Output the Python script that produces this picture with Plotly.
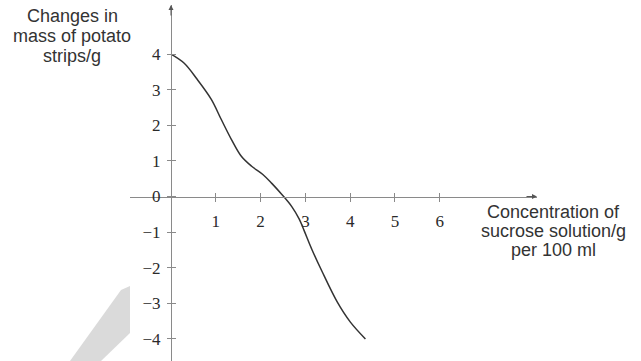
import plotly.graph_objects as go

# Data
conc = [0.0, 0.29, 0.58, 0.9, 1.12, 1.35, 1.57, 1.8, 2.05, 2.25, 2.48, 2.7, 2.86, 2.97, 3.15, 3.37, 3.71, 4.0, 4.34]
mass = [4.0, 3.75, 3.3, 2.73, 2.17, 1.6, 1.13, 0.85, 0.62, 0.37, 0.05, -0.29, -0.63, -0.95, -1.5, -2.1, -2.96, -3.52, -4.0]

x_ticks = [1, 2, 3, 4, 5, 6]
x_tick_text = ["1", "2", "3", "4", "5", "6"]
y_ticks = [-4, -3, -2, -1, 0, 1, 2, 3, 4]
y_tick_text = ["\u22124", "\u22123", "\u22122", "\u22121", "0", "1", "2", "3", "4"]

y_title_lines = ["Changes in", "mass of potato", "strips/g"]
x_title_lines = ["Concentration of", "sucrose solution/g", "per 100 ml"]

W, H = 641, 361
X_RANGE = [-0.915, 8.17]
Y_RANGE = [-4.62, 5.38]
X_DOMAIN = [130 / W, 537 / W]
Y_DOMAIN = [0, 1 - 5 / H]
XAX_POS = 1 - 196.5 / H
YAX_POS = 171 / W

tick_font = dict(family="Liberation Serif, DejaVu Serif, serif", size=17, color="#2a2a2a")
label_font = dict(family="Liberation Sans, Arial, sans-serif", size=18, color="#333333")
axis_col = "#8a8a8a"

fig = go.Figure()
fig.add_trace(go.Scatter(x=conc, y=mass, mode="lines",
                         line=dict(color="#333333", width=1.5, shape="spline", smoothing=1.0),
                         hoverinfo="skip", showlegend=False))
# invisible trace for overlay axes
fig.add_trace(go.Scatter(x=[0], y=[0], xaxis="x2", yaxis="y2", mode="markers",
                         marker=dict(opacity=0), showlegend=False, hoverinfo="skip"))

common_x = dict(range=X_RANGE, domain=X_DOMAIN, anchor="free", position=XAX_POS,
                showgrid=False, zeroline=False, tickvals=x_ticks, ticktext=x_tick_text,
                tickcolor=axis_col, ticklen=4, tickwidth=1, automargin=False)
common_y = dict(range=Y_RANGE, domain=Y_DOMAIN, anchor="free", position=YAX_POS,
                showgrid=False, zeroline=False, tickvals=y_ticks, ticktext=y_tick_text,
                tickcolor=axis_col, ticklen=4, tickwidth=1, automargin=False)

fig.update_layout(
    width=W, height=H,
    margin=dict(l=0, r=0, t=0, b=0),
    paper_bgcolor="white", plot_bgcolor="white",
    xaxis=dict(**common_x, showline=True, linecolor=axis_col, linewidth=1,
               ticks="outside", tickfont=tick_font, ticklabelstandoff=5),
    yaxis=dict(**common_y, showline=True, linecolor=axis_col, linewidth=1,
               ticks="outside", tickfont=tick_font, ticklabelstandoff=3),
    xaxis2=dict(**common_x, overlaying="x", showline=False, ticks="inside",
                showticklabels=False),
    yaxis2=dict(**common_y, overlaying="y", showline=False, ticks="inside",
                showticklabels=False),
)

# arrow heads on axes
fig.add_annotation(x=X_RANGE[1], y=0, xref="x", yref="y", ax=-12, ay=0, text="",
                   showarrow=True, arrowhead=2, arrowsize=1, arrowwidth=1, arrowcolor="#555555")
fig.add_annotation(x=0, y=Y_RANGE[1], xref="x", yref="y", ax=0, ay=12, text="",
                   showarrow=True, arrowhead=2, arrowsize=1, arrowwidth=1, arrowcolor="#555555")

# axis titles as separate lines
for i, t in enumerate(y_title_lines):
    fig.add_annotation(x=72 / W, y=1 - (16 + 20 * i) / H, xref="paper", yref="paper",
                       text=t, showarrow=False, font=label_font, xanchor="center", yanchor="middle")
for i, t in enumerate(x_title_lines):
    fig.add_annotation(x=553 / W, y=1 - (212 + 19 * i) / H, xref="paper", yref="paper",
                       text=t, showarrow=False, font=label_font, xanchor="center", yanchor="middle")

# grey watermark shape
pts = [(121, 290), (130, 286), (130, 333), (101, 361), (70, 361)]
path = "M " + " L ".join(f"{px / W:.4f},{1 - py / H:.4f}" for px, py in pts) + " Z"
fig.add_shape(type="path", path=path, xref="paper", yref="paper",
              fillcolor="#dadada", line=dict(width=0), layer="below")

fig.write_html("out.html", config={"displayModeBar": False},
               post_script="document.body.style.margin='0';")
